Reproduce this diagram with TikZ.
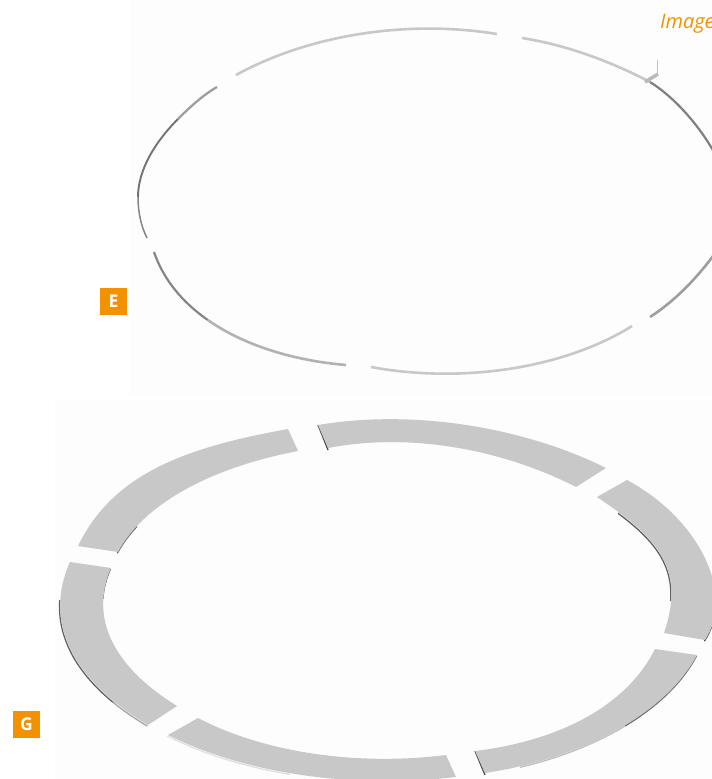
\documentclass[tikz,border=0pt]{standalone}
\usepackage{fontspec}
\setmainfont{Open Sans}
\definecolor{tag}{HTML}{F39200}
\definecolor{plate}{HTML}{C8C8C8}
\tikzset{
  tagbox/.style={fill=tag,text=white,minimum size=27pt,inner sep=0pt,font=\fontsize{17.5}{18}\selectfont\bfseries},
  plate/.style={fill=plate},
  lip/.style={line width=1.3pt,line join=round,shift={(-0.6,1.1)}},
  wire/.style={line width=2.6pt,line cap=butt,line join=round}
}
\begin{document}
\begin{tikzpicture}[x=1pt,y=-1pt]
\useasboundingbox (0,0) rectangle (712,779);
\clip (0,0) rectangle (712,779);
\fill[white] (0,0) rectangle (712,779);
\fill[black!0.6] (130,0) rectangle (712,396);
\fill[black!0.6] (55,400) rectangle (712,779);

% upper ring
\draw[wire,color=plate] (236,75) .. controls (307,36) and (404,19) .. (497,34);
\draw[wire,color=plate] (522,38) .. controls (566,45) and (610,61) .. (650,82);
\draw[line width=2.2pt,color=black!50] (650,82) .. controls (674,97) and (698,124) .. (714,152);
\draw[line width=2.3pt,color=black!38] (217,87) .. controls (203,95) and (190,107) .. (178,119);
\draw[line width=1.9pt,color=black!55] (178,119) .. controls (155,142) and (138,170) .. (138,197);
\draw[line width=1.5pt,color=black!48] (138,197) .. controls (138,212) and (141,226) .. (147,238);
\draw[line width=2.2pt,color=black!48] (154,252) .. controls (163.6,280) and (182.8,302.6) .. (207.8,320);
\draw[wire,color=black!30] (207.8,320) .. controls (245.2,346.2) and (295.6,360.8) .. (346,365);
\draw[wire,color=plate] (371,367) .. controls (463,384) and (565,368) .. (632,326);
\draw[wire,color=black!38] (650,317) .. controls (675,301) and (698,277) .. (716,252);
\draw[line width=3.5pt,color=black!27] (645,82) -- (658,74);
\draw[line width=1pt,color=black!25] (657,60) -- (657,74);

% lower ring: edges
\def\oneIn{(298,451) .. controls (214,467) and (145,502) .. (118,552)}
\def\threeIn{(664,633) .. controls (686,568) and (658,538) .. (597,497)}
\def\threeOut{(627,480) .. controls (701,520) and (735,595) .. (705,640)}
\def\fourOut{(697,655) .. controls (667,712) and (585,758) .. (485,773)}
\def\fiveOut{(456,777) .. controls (353,789) and (246,774) .. (168,735)}
\def\sixOut{(148,725) .. controls (72,680) and (43,622) .. (70,562)}
\def\sixIn{(111,568) .. controls (89,619) and (114,667) .. (177,706)}

% lower ring: shaded rims under the plates
\begin{scope}\clip (100,525) rectangle (137,560); \draw[lip,black!60] \oneIn; \end{scope}
\begin{scope}\clip (90,560) rectangle (120,598); \draw[lip,black!62] \sixIn; \end{scope}
\begin{scope}\clip (618,510) rectangle (700,600); \draw[lip,black!62] \threeIn; \end{scope}
\begin{scope}\clip (690,618) rectangle (712,650); \draw[lip,black!70] \threeOut; \end{scope}
\begin{scope}\clip (625,650) rectangle (712,740); \draw[lip,black!58] \fourOut; \end{scope}
\begin{scope}\clip (520,700) rectangle (625,779); \draw[lip,black!25] \fourOut; \end{scope}
\begin{scope}\clip (50,600) rectangle (160,702); \draw[lip,black!62] \sixOut; \end{scope}
\begin{scope}\clip (90,702) rectangle (160,735); \draw[lip,black!35] \sixOut; \end{scope}
\begin{scope}\clip (160,720) rectangle (290,779); \draw[lip,black!12] \fiveOut; \end{scope}
\draw[line width=1.3pt,black!70] (318,425) -- (328,450);
\draw[line width=1.3pt,black!70] (475,751) -- (485,775);

% lower ring: plates
\fill[plate] (78,546) .. controls (113.5,472.5) and (188,447) .. (288,429) -- \oneIn -- cycle;
\fill[plate] (318,425) .. controls (420,408) and (530,430) .. (606,468) -- (576,487) .. controls (510,453) and (417,431) .. (328,448) -- cycle;
\fill[plate] \threeOut -- \threeIn -- cycle;
\fill[plate] \fourOut -- (475,751) .. controls (557.5,741) and (626,707) .. (655,649) -- cycle;
\fill[plate] \fiveOut -- (198,718) .. controls (265,753) and (358,766) .. (446,755) -- cycle;
\fill[plate] \sixOut -- \sixIn -- cycle;

% labels
\node[tagbox] (tagE) at (113.5,301.5) {E};
\node[tagbox] (tagG) at (26.5,724.5) {G};
\node[anchor=base west,inner sep=0pt,text=tag,font=\fontsize{20}{22}\selectfont\itshape] (img) at (660,28) {Image};
\end{tikzpicture}
\end{document}
